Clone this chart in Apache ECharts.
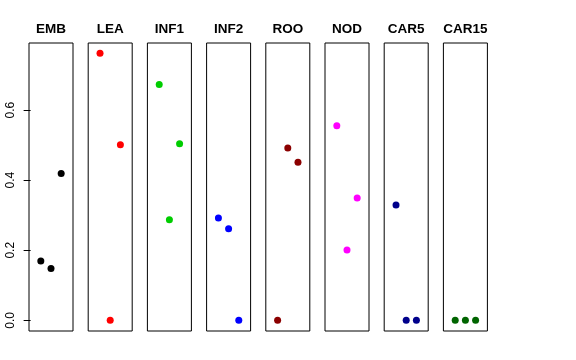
<!DOCTYPE html>
<html><head><meta charset="utf-8">
<script src="https://cdn.jsdelivr.net/npm/echarts@6/dist/echarts.min.js"></script>
<style>html,body{margin:0;padding:0;background:#fff}#c{width:576px;height:360px}</style>
</head><body><div id="c"></div>
<script>
const panels = ['EMB','LEA','INF1','INF2','ROO','NOD','CAR5','CAR15'];
const xPos = [1, 2, 3];
const EMB = [0.169, 0.148, 0.419];
const LEA = [0.762, 0.0, 0.501];
const INF1 = [0.673, 0.287, 0.504];
const INF2 = [0.292, 0.261, 0.0];
const ROO = [0.0, 0.492, 0.451];
const NOD = [0.555, 0.201, 0.349];
const CAR5 = [0.329, 0.0, 0.0];
const CAR15 = [0.0, 0.0, 0.0];
const yTicks = [0, 0.2, 0.4, 0.6];
const colors = ['#000000','#FF0000','#00CD00','#0000FF','#8B0000','#FF00FF','#00008B','#006400'];
const values = [EMB, LEA, INF1, INF2, ROO, NOD, CAR5, CAR15];

const gLeft0 = 29, gStep = 59.2, gW = 44, gTop = 43, gH = 288;
const grid = [], xAxis = [], yAxis = [], series = [], graphic = [];
panels.forEach((p, i) => {
  const l = gLeft0 + gStep * i;
  grid.push({left: l, top: gTop, width: gW, height: gH, show: true, borderColor: '#000', borderWidth: 1, backgroundColor: 'transparent'});
  xAxis.push({type: 'value', gridIndex: i, min: -0.16, max: 4.16, show: false});
  yAxis.push({type: 'value', gridIndex: i, min: -0.0305, max: 0.7915, show: i === 0,
    splitLine: {show: false}, axisLine: {show: false},
    axisTick: {show: true, length: 7, customValues: yTicks, lineStyle: {color: '#000', width: 1}},
    axisLabel: {show: true, customValues: yTicks, rotate: 90, color: '#000', fontSize: 12, fontFamily: 'Liberation Sans, Arial, sans-serif',
      formatter: v => v.toFixed(1), margin: 12, align: 'center', verticalAlign: 'bottom'}});
  series.push({type: 'scatter', xAxisIndex: i, yAxisIndex: i, symbolSize: 7, itemStyle: {color: colors[i], opacity: 1},
    data: values[i].map((v, k) => [xPos[k], v])});
  graphic.push({type: 'text', x: l + gW / 2, y: 29.5,
    style: {text: p, textAlign: 'center', textVerticalAlign: 'middle', fill: '#000',
      font: 'bold 13.5px "Liberation Sans", Arial, sans-serif'}});
});
const chart = echarts.init(document.getElementById('c'), null, {renderer: 'canvas'});
chart.setOption({animation: false, backgroundColor: '#fff', graphic, grid, xAxis, yAxis, series});
</script></body></html>
